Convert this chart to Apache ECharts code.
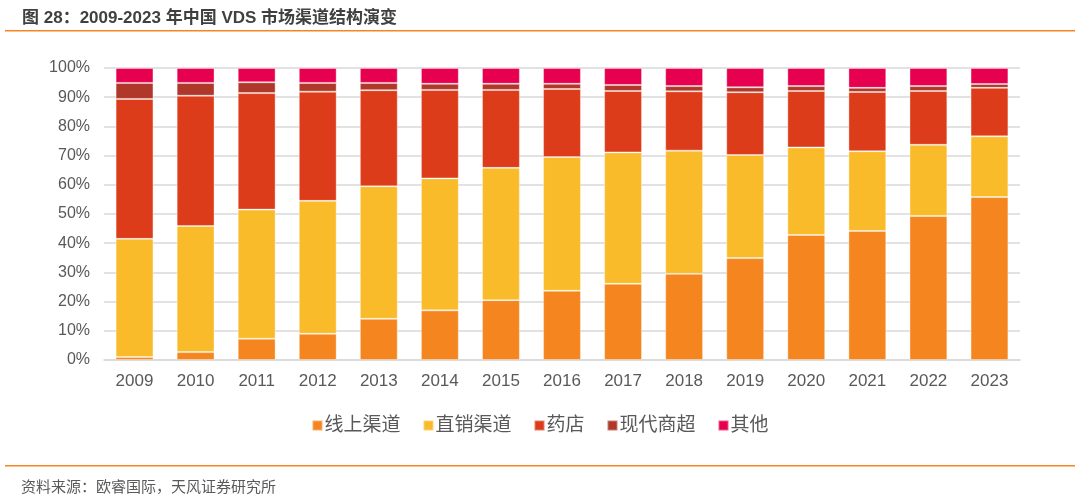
<!DOCTYPE html>
<html>
<head>
<meta charset="utf-8">
<script src="https://cdn.jsdelivr.net/npm/echarts@6/dist/echarts.min.js"></script>
<style>
html,body{margin:0;padding:0;background:#fff;}
#c{width:1080px;height:497px;}
</style>
</head>
<body>
<div id="c"></div>
<script>
const categories = ['2009','2010','2011','2012','2013','2014','2015','2016','2017','2018','2019','2020','2021','2022','2023'];
const online      = [1.0, 2.7, 7.3, 9.0, 14.1, 17.0, 20.5, 23.7, 26.1, 29.5, 34.9, 42.8, 44.2, 49.3, 55.8];
const direct      = [40.5, 43.2, 44.2, 45.5, 45.4, 45.2, 45.3, 45.8, 45.0, 42.2, 35.3, 30.0, 27.3, 24.4, 20.8];
const pharmacy    = [47.9, 44.6, 39.9, 37.4, 32.9, 30.3, 26.7, 23.3, 21.0, 20.3, 21.5, 19.3, 20.3, 18.4, 16.6];
const supermarket = [5.5, 4.4, 3.7, 3.0, 2.5, 2.1, 2.1, 1.8, 2.1, 1.8, 1.7, 1.7, 1.4, 1.7, 1.3];
const others      = [5.1, 5.1, 4.9, 5.1, 5.1, 5.4, 5.4, 5.4, 5.8, 6.2, 6.6, 6.2, 6.8, 6.2, 5.5];
const seriesNames = ['线上渠道','直销渠道','药店','现代商超','其他'];
const colors = ['#F5861F','#FABB2B','#DC3C19','#B0382A','#E6004F'];

const chart = echarts.init(document.getElementById('c'), null, {renderer:'canvas'});
const dataSets = [online, direct, pharmacy, supermarket, others];
const font = '"Liberation Sans", "Noto Sans CJK SC", sans-serif';
chart.setOption({
  animation:false,
  textStyle:{fontFamily:font},
  title:[
    {text:'图 28：2009-2023 年中国 VDS 市场渠道结构演变', left:17, top:5,
     textStyle:{fontSize:17, fontWeight:'bold', color:'#404040', fontFamily:font}},
    {text:'资料来源：欧睿国际，天风证券研究所', left:16, top:475,
     textStyle:{fontSize:15, fontWeight:'normal', color:'#595959', fontFamily:font}}
  ],
  graphic:[
    {type:'rect', shape:{x:5, y:30, width:1070, height:1.5}, style:{fill:'#F5861F'}},
    {type:'rect', shape:{x:5, y:465, width:1070, height:1.5}, style:{fill:'#F5861F'}}
  ],
  color:colors,
  legend:{
    data:seriesNames, left:'center', top:411, itemWidth:10, itemHeight:10, itemGap:22,
    icon:'rect',
    textStyle:{fontSize:19, color:'#595959', padding:[0,0,0,-3], fontFamily:font}
  },
  grid:{left:104, right:60, top:68, bottom:137},
  xAxis:{
    type:'category', data:categories,
    axisLine:{lineStyle:{color:'#D9D9D9', width:1.5}},
    axisTick:{show:false},
    axisLabel:{fontSize:17, color:'#595959', margin:13}
  },
  yAxis:{
    type:'value', min:0, max:100, interval:10,
    axisLabel:{formatter:'{value}%', fontSize:16, color:'#595959', margin:14},
    axisLine:{show:false}, axisTick:{show:false},
    splitLine:{lineStyle:{color:'#D9D9D9', width:1.5}}
  },
  series: seriesNames.map((n,i)=>({
    name:n, type:'bar', stack:'s', data:dataSets[i], barWidth:'62%',
    itemStyle:{color:colors[i], borderColor:'rgba(255,255,255,0.35)', borderWidth:1}
  }))
});
</script>
</body>
</html>
